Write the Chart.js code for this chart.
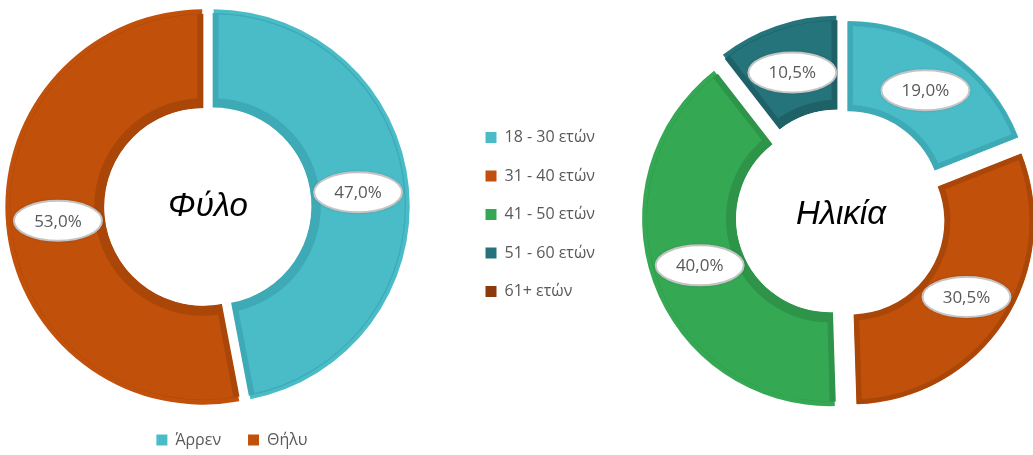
<!DOCTYPE html>
<html>
<head>
<meta charset="utf-8">
<script src="https://cdn.jsdelivr.net/npm/chart.js@4"></script>
<style>
  html, body { margin: 0; padding: 0; background: #fff; overflow: hidden; }
  #wrap { position: relative; width: 1033px; height: 455px; overflow: hidden; }
  #genderBox { position: absolute; left: 0; top: 0; width: 464px; height: 455px; }
  #ageBox { position: absolute; left: 463px; top: 0; width: 614px; height: 455px; }
</style>
</head>
<body>
<div id="wrap">
  <div id="genderBox"><canvas id="genderChart"></canvas></div>
  <div id="ageBox"><canvas id="ageChart"></canvas></div>
</div>
<script>
const genderLabels = ['Άρρεν', 'Θήλυ'];
const genderValues = [47.0, 53.0];
const genderColors = ['#4ABCC8', '#C0500A'];
const genderBorders = ['#3DAAB5', '#A94608'];

const ageLabels = ['18 - 30 ετών', '31 - 40 ετών', '41 - 50 ετών', '51 - 60 ετών', '61+ ετών'];
const ageValues = [19.0, 30.5, 40.0, 10.5, 0];
const ageColors = ['#4ABCC8', '#C0500A', '#34A853', '#25747B', '#8B3A0E'];
const ageBorders = ['#3DAAB5', '#A94608', '#2D9449', '#1E6268', '#76300A'];

const textGrey = '#595959';
const baseLabels = Chart.overrides.doughnut.plugins.legend.labels.generateLabels;

// white ellipse with the percentage, in the middle of each ring piece
const sliceLabels = {
  id: 'sliceLabels',
  afterDatasetsDraw(chart) {
    const ctx = chart.ctx;
    const ds = chart.data.datasets[0];
    const shift = (ds.offset || 0) / 4;
    ctx.save();
    ctx.font = '17px "Open Sans"';
    ctx.textAlign = 'center';
    ctx.textBaseline = 'middle';
    chart.getDatasetMeta(0).data.forEach((arc, i) => {
      const v = ds.data[i];
      if (!v) return;
      const p = arc.getProps(['x', 'y', 'startAngle', 'endAngle', 'innerRadius', 'outerRadius']);
      const mid = (p.startAngle + p.endAngle) / 2;
      const r = (p.innerRadius + p.outerRadius) / 2 + shift;
      const x = p.x + Math.cos(mid) * r;
      const y = p.y + Math.sin(mid) * r;
      ctx.beginPath();
      ctx.ellipse(x, y, 44, 20, 0, 0, Math.PI * 2);
      ctx.shadowColor = 'rgba(0,0,0,0.3)';
      ctx.shadowBlur = 3;
      ctx.fillStyle = '#fff';
      ctx.fill();
      ctx.shadowColor = 'transparent';
      ctx.lineWidth = 2;
      ctx.strokeStyle = '#C4C4C4';
      ctx.stroke();
      ctx.fillStyle = textGrey;
      ctx.fillText(v.toFixed(1).replace('.', ',') + '%', x, y + 1);
    });
    ctx.restore();
  }
};

const centerText = {
  id: 'centerText',
  afterDraw(chart, args, opts) {
    const arc = chart.getDatasetMeta(0).data[0];
    const ctx = chart.ctx;
    ctx.save();
    ctx.font = 'italic 33px "Liberation Sans"';
    ctx.fillStyle = '#000';
    ctx.textAlign = 'center';
    ctx.textBaseline = 'middle';
    ctx.fillText(opts.text, arc.x, arc.y);
    ctx.restore();
  }
};

function legendOpts(position, padding) {
  return {
    position: position,
    labels: {
      boxWidth: 11,
      boxHeight: 11,
      padding: padding,
      color: textGrey,
      font: { size: 16, family: 'Open Sans' },
      generateLabels: chart => baseLabels(chart).map(l => ({ ...l, lineWidth: 0 }))
    }
  };
}

new Chart(document.getElementById('genderChart'), {
  type: 'doughnut',
  data: {
    labels: genderLabels,
    datasets: [{
      data: genderValues,
      backgroundColor: genderColors,
      borderColor: genderBorders,
      borderWidth: 5,
      borderAlign: 'inner',
      offset: 20
    }]
  },
  options: {
    responsive: true,
    maintainAspectRatio: false,
    animation: false,
    radius: 193,
    cutout: '51%',
    layout: { padding: { top: 8, bottom: -3 } },
    plugins: {
      legend: legendOpts('bottom', 27),
      // empty title on the right, only to move the ring left of the legend centre
      title: { display: true, text: '', position: 'right', fullSize: false, padding: 0, font: { size: 40, lineHeight: 1.2 } },
      tooltip: { enabled: false },
      centerText: { text: 'Φύλο' }
    }
  },
  plugins: [sliceLabels, centerText]
});

new Chart(document.getElementById('ageChart'), {
  type: 'doughnut',
  data: {
    labels: ageLabels,
    datasets: [{
      data: ageValues,
      backgroundColor: ageColors,
      borderColor: ageBorders,
      borderWidth: 5,
      borderAlign: 'inner',
      offset: 48
    }]
  },
  options: {
    responsive: true,
    maintainAspectRatio: false,
    animation: false,
    radius: 183,
    cutout: '51%',
    layout: { padding: { bottom: 26 } },
    plugins: {
      legend: legendOpts('left', 22.5),
      tooltip: { enabled: false },
      centerText: { text: 'Ηλικία' }
    }
  },
  plugins: [sliceLabels, centerText]
});
</script>
</body>
</html>
